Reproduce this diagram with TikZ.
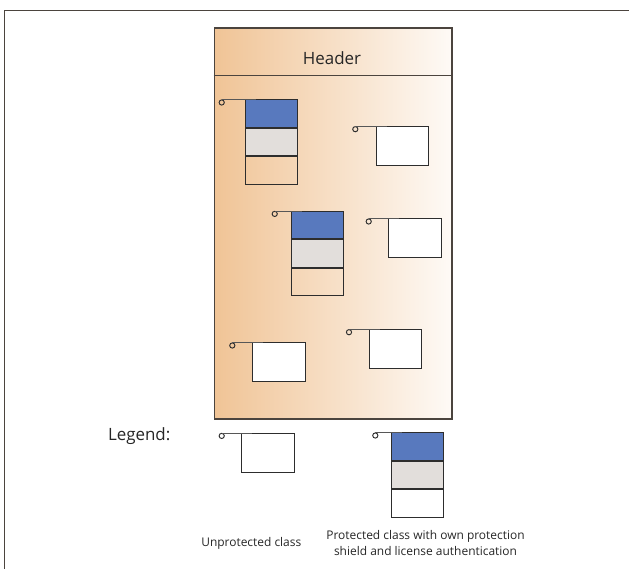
\documentclass[tikz,border=0pt]{standalone}
\usepackage{fontspec}
\setmainfont{Open Sans}
\begin{document}
\definecolor{shieldblue}{RGB}{88,121,190}
\definecolor{licgray}{RGB}{226,222,219}
\definecolor{edge}{RGB}{45,45,45}
\definecolor{frameline}{RGB}{75,68,62}
\definecolor{peach}{RGB}{240,196,150}
\definecolor{cream}{RGB}{254,250,246}
\tikzset{
  cls/.style={draw=edge, line width=0.9bp, inner sep=0pt, minimum width=52.5bp, anchor=north west},
  plainbox/.style={cls, fill=white, minimum height=39bp},
  cell/.style={cls, minimum height=27.6bp},
  pinhole/.style={circle, draw=edge, line width=0.95bp, inner sep=0pt, minimum size=5.2bp},
  pinline/.style={draw=edge!80, line width=0.6bp},
  bigtext/.style={font=\fontsize{17}{20}\selectfont, text=black!85, inner sep=0pt, anchor=base},
  smalltext/.style={font=\fontsize{12}{15.7}\selectfont, text=black!85, align=center, inner sep=0pt, anchor=base}
}
% unprotected class: #1 name, (#2,#3) top-left corner, #4 pin offset
\newcommand\plainclass[4]{%
  \node[plainbox] (#1) at (#2,#3) {};
  \node[pinhole] (#1-pin) at ([xshift=-#4bp,yshift=-3.2bp]#1.north west) {};
  \draw[pinline] (#1-pin.north) -- ([xshift=11bp]#1-pin.north -| #1.west);
}
% protected class: shield, license and class cells; #4 fill of the class cell, #5 pin offset
\newcommand\protclass[5]{%
  \node[cell, fill=shieldblue] (#1-a) at (#2,#3) {};
  \node[cell, fill=licgray] (#1-b) at (#1-a.south west) {};
  \node[cell, #4] (#1-c) at (#1-b.south west) {};
  \node[pinhole] (#1-pin) at ([xshift=-#5bp,yshift=-3.2bp]#1-a.north west) {};
  \draw[pinline] (#1-pin.north) -- ([xshift=11bp]#1-pin.north -| #1-a.west);
}
\begin{tikzpicture}[x=1bp,y=-1bp]
\useasboundingbox (0,0) rectangle (629,569);
% outer frame
\draw[frameline, line width=1.3bp] (629,10.7) -- (4.6,10.7) -- (4.6,569);
% container with header
\node[draw=frameline, line width=1.5bp, left color=peach, right color=cream,
      minimum width=237.5bp, minimum height=390.5bp, inner sep=0pt, anchor=north west]
      (box) at (213.5,27.5) {};
\coordinate (hl) at (213.5,75.7);
\draw[frameline, line width=1.1bp] (hl) -- (hl -| box.east);
\node[bigtext] (hdr) at (332,65) {Header};
% classes inside
\protclass{p1}{244.7}{99.3}{}{23}
\plainclass{u1}{375.7}{126}{20.4}
\protclass{p2}{290.7}{210.7}{}{16}
\plainclass{u2}{388.3}{218.3}{19.6}
\plainclass{u3}{252.3}{342.3}{20}
\plainclass{u4}{368.7}{329}{19.7}
% legend
\node[bigtext] (leg) at (139.2,440) {Legend:};
\plainclass{lu}{241}{432.7}{19.3}
\protclass{lp}{390.7}{432.3}{fill=white}{15.4}
\node[smalltext] (lut) at (251.3,546.3) {Unprotected class};
\node[smalltext] (lpt) at (425.5,555.2) {Protected class with own protection\\shield and license authentication};
\end{tikzpicture}
\end{document}
